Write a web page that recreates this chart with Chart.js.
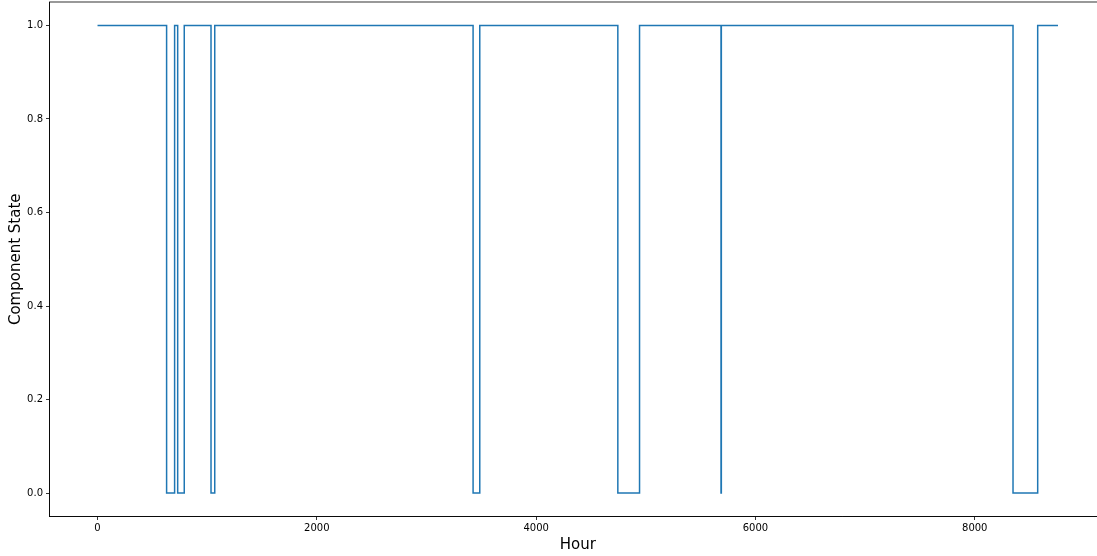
<!DOCTYPE html>
<html>
<head>
<meta charset="utf-8">
<script src="https://cdn.jsdelivr.net/npm/chart.js@4.4.1/dist/chart.umd.min.js"></script>
<style>
  html, body { margin: 0; padding: 0; background: #fff; overflow: hidden; }
  #wrap { width: 1097px; height: 556px; overflow: hidden; position: relative; }
  canvas { display: block; margin-top: -7px; }
</style>
</head>
<body>
<div id="wrap"><canvas id="chart" width="1106" height="563"></canvas></div>
<script>
// Hours at which the component changes state, and the state it enters
const changeHours = [0, 630, 703, 731, 791, 1035, 1069, 3425, 3486, 4745, 4943, 5686, 5689, 8349, 8574];
const states      = [1, 0,   1,   0,   1,   0,    1,    0,    1,    0,    1,    0,    1,    0,    1];
const lastHour = 8759;

const xTicks = [0, 2000, 4000, 6000, 8000];
const yTicks = [0.0, 0.2, 0.4, 0.6, 0.8, 1.0];

// Step series: each state holds until the next change
const points = changeHours.map((h, i) => ({ x: h, y: states[i] }));
points.push({ x: lastHour, y: states[states.length - 1] });

// 5% margins around the data range on both axes
const xSpan = lastHour - 0;
const xMin = 0 - 0.05 * xSpan, xMax = lastHour + 0.05 * xSpan;

const frame = {
  id: 'frame',
  afterDraw(chart) {
    const { ctx, chartArea: a } = chart;
    ctx.save();
    ctx.strokeStyle = '#000';
    ctx.lineWidth = 0.8;
    ctx.strokeRect(a.left, a.top, a.right - a.left, a.bottom - a.top);
    ctx.restore();
  }
};

const tickFont = { family: 'DejaVu Sans', size: 10 };
const titleFont = { family: 'DejaVu Sans', size: 15 };

new Chart(document.getElementById('chart'), {
  type: 'line',
  data: {
    datasets: [{
      data: points,
      stepped: 'before',
      borderColor: '#1f77b4',
      borderWidth: 1.5,
      pointRadius: 0,
      fill: false,
      tension: 0
    }]
  },
  options: {
    responsive: false,
    animation: false,
    layout: { padding: { top: 2, right: 0, left: 0, bottom: 0 } },
    plugins: { legend: { display: false }, tooltip: { enabled: false } },
    scales: {
      x: {
        type: 'linear',
        min: xMin,
        max: xMax,
        afterBuildTicks: s => { s.ticks = xTicks.map(v => ({ value: v })); },
        afterFit: s => { s.height = 39.5; },
        grid: { drawOnChartArea: false, drawTicks: true, tickLength: 3.5, tickColor: '#000', tickWidth: 0.8 },
        border: { display: true, color: '#000', width: 0.8 },
        ticks: { color: '#000', font: tickFont, padding: 2, maxRotation: 0, callback: v => String(v) },
        title: { display: true, text: 'Hour', color: '#000', font: titleFont, padding: { top: 0, bottom: 2 } }
      },
      y: {
        type: 'linear',
        min: -0.05,
        max: 1.05,
        afterBuildTicks: s => { s.ticks = yTicks.map(v => ({ value: v })); },
        afterFit: s => { s.width = 49.5; },
        grid: { drawOnChartArea: false, drawTicks: true, tickLength: 3.5, tickColor: '#000', tickWidth: 0.8 },
        border: { display: true, color: '#000', width: 0.8 },
        ticks: { color: '#000', font: tickFont, padding: 3, callback: v => v.toFixed(1) },
        title: { display: true, text: 'Component State', color: '#000', font: titleFont, padding: { top: 7, bottom: 0 } }
      }
    }
  },
  plugins: [frame]
});
</script>
</body>
</html>
